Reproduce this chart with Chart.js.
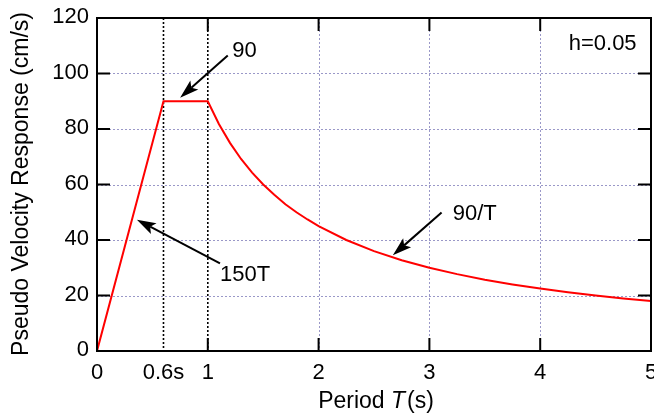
<!DOCTYPE html>
<html>
<head>
<meta charset="utf-8">
<script src="https://cdn.jsdelivr.net/npm/chart.js@4/dist/chart.umd.min.js"></script>
<style>
    html, body { margin: 0; padding: 0; background: #fff; }
    #wrap { width: 654px; height: 416px; }
</style>
</head>
<body>
<div id="wrap"><canvas id="myChart"></canvas></div>
<script>
// data
const periods = [0, 0.6, 1.0, 1.1, 1.2, 1.3, 1.4, 1.5, 1.6, 1.7, 1.8, 1.9, 2.0, 2.25, 2.5, 2.75, 3.0, 3.25, 3.5, 3.75, 4.0, 4.25, 4.5, 4.75, 5.0];
const velocity = [0, 90, 90, 81.8, 75, 69.2, 64.3, 60, 56.3, 52.9, 50, 47.4, 45, 40, 36, 32.7, 30, 27.7, 25.7, 24, 22.5, 21.2, 20, 18.9, 18];
const xTicks = [0, 0.6, 1, 2, 3, 4, 5];
const xTickLabels = ['0', '0.6s', '1', '2', '3', '4', '5'];
const yTicks = [0, 20, 40, 60, 80, 100, 120];
const yTickLabels = ['0', '20', '40', '60', '80', '100', '120'];
const cornerPeriods = [0.6, 1];

// annotations: label, arrow tail, arrow head (data units)
const notes = [
    { text: '90', tx: 1.22, ty: 108, tail: [1.18, 106.5], head: [0.75, 91.3] },
    { text: '150T', tx: 1.11, ty: 27.3, tail: [1.11, 31.6], head: [0.36, 47.3] },
    { text: '90/T', tx: 3.21, ty: 49.5, tail: [3.11, 49.9], head: [2.67, 34.5] }
];

const FONT = '"Liberation Sans", Arial, Helvetica, sans-serif';

function arrow(ctx, x1, y1, x2, y2) {
    let a = Math.atan2(y2 - y1, x2 - x1);
    let len = 19, w = 6;
    let bx = x2 - len * Math.cos(a), by = y2 - len * Math.sin(a);
    let nx = x2 - (len - 4) * Math.cos(a), ny = y2 - (len - 4) * Math.sin(a);
    ctx.beginPath();
    ctx.moveTo(x1, y1);
    ctx.lineTo(nx, ny);
    ctx.lineWidth = 2;
    ctx.strokeStyle = '#000';
    ctx.stroke();
    ctx.beginPath();
    ctx.moveTo(x2, y2);
    ctx.lineTo(bx + w * Math.sin(a), by - w * Math.cos(a));
    ctx.lineTo(nx, ny);
    ctx.lineTo(bx - w * Math.sin(a), by + w * Math.cos(a));
    ctx.closePath();
    ctx.fillStyle = '#000';
    ctx.fill();
}

const frame = {
    id: 'frame',
    beforeDatasetsDraw(chart) {
        let ctx = chart.ctx, a = chart.chartArea;
        let xs = chart.scales.x, ys = chart.scales.y;
        ctx.save();
        // grid
        ctx.setLineDash([2, 2]);
        ctx.lineWidth = 1;
        ctx.strokeStyle = '#9a98c8';
        yTicks.slice(1, -1).forEach(v => {
            let y = Math.round(ys.getPixelForValue(v)) + 0.5;
            ctx.beginPath(); ctx.moveTo(a.left, y); ctx.lineTo(a.right, y); ctx.stroke();
        });
        xTicks.forEach(v => {
            if (v === 0 || v === 5 || cornerPeriods.includes(v)) return;
            let x = Math.round(xs.getPixelForValue(v)) + 0.5;
            ctx.beginPath(); ctx.moveTo(x, a.top); ctx.lineTo(x, a.bottom); ctx.stroke();
        });
        // corner periods
        ctx.strokeStyle = '#000';
        ctx.lineWidth = 1.6;
        cornerPeriods.forEach(v => {
            let x = xs.getPixelForValue(v);
            ctx.beginPath(); ctx.moveTo(x, a.top); ctx.lineTo(x, a.bottom); ctx.stroke();
        });
        ctx.restore();
    },
    afterDatasetsDraw(chart) {
        let ctx = chart.ctx, a = chart.chartArea;
        let xs = chart.scales.x, ys = chart.scales.y;
        ctx.save();
        ctx.strokeStyle = '#000';
        ctx.lineWidth = 2;
        ctx.strokeRect(a.left, a.top, a.right - a.left, a.bottom - a.top);
        // inward ticks
        let tl = 13;
        ctx.beginPath();
        yTicks.forEach(v => {
            let y = ys.getPixelForValue(v);
            ctx.moveTo(a.left, y); ctx.lineTo(a.left + tl, y);
            ctx.moveTo(a.right, y); ctx.lineTo(a.right - tl, y);
        });
        xTicks.forEach(v => {
            if (!Number.isInteger(v)) return;
            let x = xs.getPixelForValue(v);
            ctx.moveTo(x, a.bottom); ctx.lineTo(x, a.bottom - tl);
            ctx.moveTo(x, a.top); ctx.lineTo(x, a.top + tl);
        });
        ctx.stroke();

        // tick labels
        ctx.fillStyle = '#000';
        ctx.font = '22px ' + FONT;
        ctx.textAlign = 'right';
        ctx.textBaseline = 'middle';
        yTicks.forEach((v, i) => {
            ctx.fillText(yTickLabels[i], a.left - 8, ys.getPixelForValue(v) - 1);
        });
        ctx.textAlign = 'center';
        ctx.textBaseline = 'top';
        xTicks.forEach((v, i) => {
            ctx.fillText(xTickLabels[i], xs.getPixelForValue(v), a.bottom + 11);
        });

        // axis titles
        ctx.font = '23px ' + FONT;
        ctx.textBaseline = 'middle';
        let p1 = 'Period ', p2 = 'T', p3 = '(s)';
        let w1 = ctx.measureText(p1).width, w3 = ctx.measureText(p3).width;
        ctx.font = 'italic 23px ' + FONT;
        let w2 = ctx.measureText(p2).width + 2;
        let sx = 376 - (w1 + w2 + w3) / 2;
        ctx.textAlign = 'left';
        ctx.font = '23px ' + FONT;
        ctx.fillText(p1, sx, 402);
        ctx.font = 'italic 23px ' + FONT;
        ctx.fillText(p2, sx + w1, 402);
        ctx.font = '23px ' + FONT;
        ctx.fillText(p3, sx + w1 + w2, 402);

        ctx.save();
        ctx.translate(22, 184);
        ctx.rotate(-Math.PI / 2);
        ctx.textAlign = 'center';
        ctx.fillText('Pseudo Velocity Response (cm/s)', 0, 0);
        ctx.restore();

        // notes
        ctx.font = '22px ' + FONT;
        ctx.textAlign = 'left';
        ctx.textBaseline = 'middle';
        notes.forEach(n => {
            arrow(ctx, xs.getPixelForValue(n.tail[0]), ys.getPixelForValue(n.tail[1]),
                xs.getPixelForValue(n.head[0]), ys.getPixelForValue(n.head[1]));
            ctx.fillText(n.text, xs.getPixelForValue(n.tx), ys.getPixelForValue(n.ty));
        });
        ctx.textAlign = 'right';
        ctx.fillText('h=0.05', xs.getPixelForValue(4.87), ys.getPixelForValue(110.5));
        ctx.restore();
    }
};

let ctx = document.getElementById('myChart').getContext('2d');
let chart = new Chart(ctx, {
    type: 'line',
    data: {
        datasets: [{
            label: 'Sv',
            data: periods.map((t, i) => ({ x: t, y: velocity[i] })),
            borderColor: '#ff0000',
            borderWidth: 2,
            pointRadius: 0,
            tension: 0,
            fill: false
        }]
    },
    options: {
        responsive: true,
        maintainAspectRatio: false,
        animation: false,
        devicePixelRatio: 1,
        layout: { padding: { left: 97, top: 18, right: 3, bottom: 65 } },
        plugins: {
            legend: { display: false },
            tooltip: { enabled: false }
        },
        scales: {
            x: { type: 'linear', min: 0, max: 5, display: false },
            y: { type: 'linear', min: 0, max: 120, display: false }
        }
    },
    plugins: [frame]
});
</script>
</body>
</html>
